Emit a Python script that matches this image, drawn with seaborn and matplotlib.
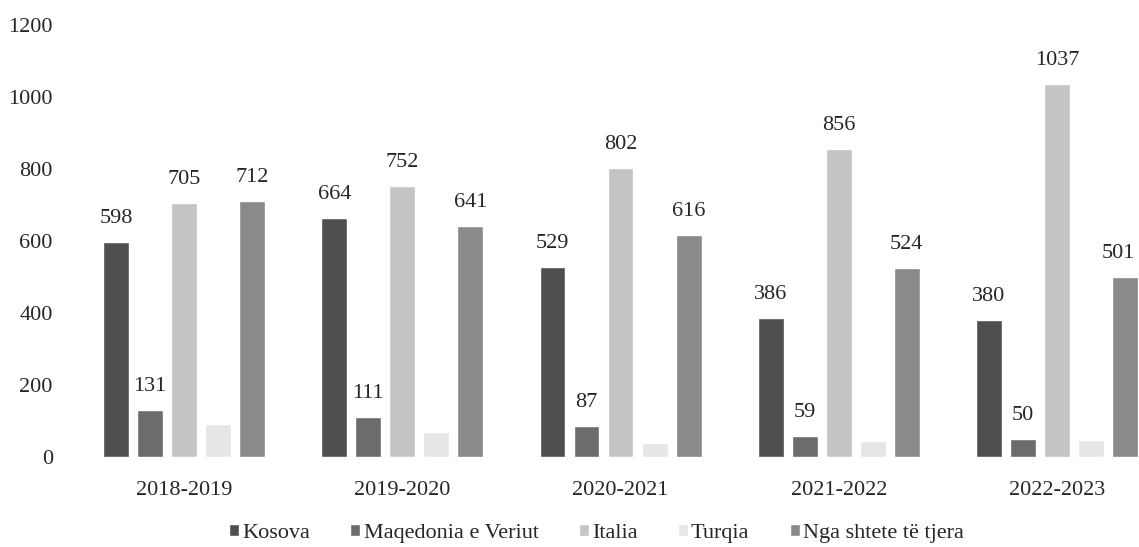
import pandas as pd
import matplotlib.pyplot as plt
import seaborn as sns

sns.set_style('white')
plt.rcParams['font.family'] = ['Liberation Serif', 'DejaVu Serif']

years = ['2018-2019', '2019-2020', '2020-2021', '2021-2022', '2022-2023']
countries = ['Kosova', 'Maqedonia e Veriut', 'Italia', 'Turqia', 'Nga shtete të tjera']
kosova = [598, 664, 529, 386, 380]
maqedonia = [131, 111, 87, 59, 50]
italia = [705, 752, 802, 856, 1037]
turqia = [92, 70, 40, 45, 47]
tjera = [712, 641, 616, 524, 501]
colors = ['#4f4f4f', '#6c6c6c', '#c4c4c4', '#e6e6e6', '#8a8a8a']
show_labels = [True, True, True, False, True]

values = [kosova, maqedonia, italia, turqia, tjera]
rows = []
for c, vals in zip(countries, values):
    for y, v in zip(years, vals):
        rows.append({'year': y, 'country': c, 'value': v})
df = pd.DataFrame(rows)

W, H = 1139, 547
fig = plt.figure(figsize=(W / 100, H / 100), dpi=100)
ax = fig.add_axes([75 / W, 90 / H, (W - 75) / W, 432 / H])

sns.barplot(data=df, x='year', y='value', hue='country', hue_order=countries,
            palette=colors, width=0.78, gap=0.24, ax=ax, saturation=1, legend=True)

texts = []
for cont, show in zip(ax.containers, show_labels):
    if show:
        texts += ax.bar_label(cont, padding=10, fontsize=16)

ax.set_ylim(0, 1200)
ax.set_xlim(-0.5, 4.376)
ax.set_yticks(range(0, 1201, 200))
ax.set_xlabel('')
ax.set_ylabel('')
ax.tick_params(axis='both', labelsize=16, length=0)
ax.tick_params(axis='y', pad=16)
ax.tick_params(axis='x', pad=17)
for s in ax.spines.values():
    s.set_visible(False)

handles, labels = ax.get_legend_handles_labels()
ax.get_legend().remove()
fig.legend(handles, labels, loc='center', bbox_to_anchor=(0.5237, 0.024), ncol=5,
           frameon=False, fontsize=16, handlelength=0.45, handleheight=0.45,
           handletextpad=0.15, columnspacing=1.8, borderpad=0)

# keep labels of the last bars inside the picture
fig.canvas.draw()
renderer = fig.canvas.get_renderer()
for t in texts:
    bb = t.get_window_extent(renderer)
    if bb.x1 > W - 4:
        dx = (bb.x1 - (W - 4)) * 72 / 100
        ox, oy = t.xyann
        t.xyann = (ox - dx, oy)

fig.savefig('out.png', dpi=100)
